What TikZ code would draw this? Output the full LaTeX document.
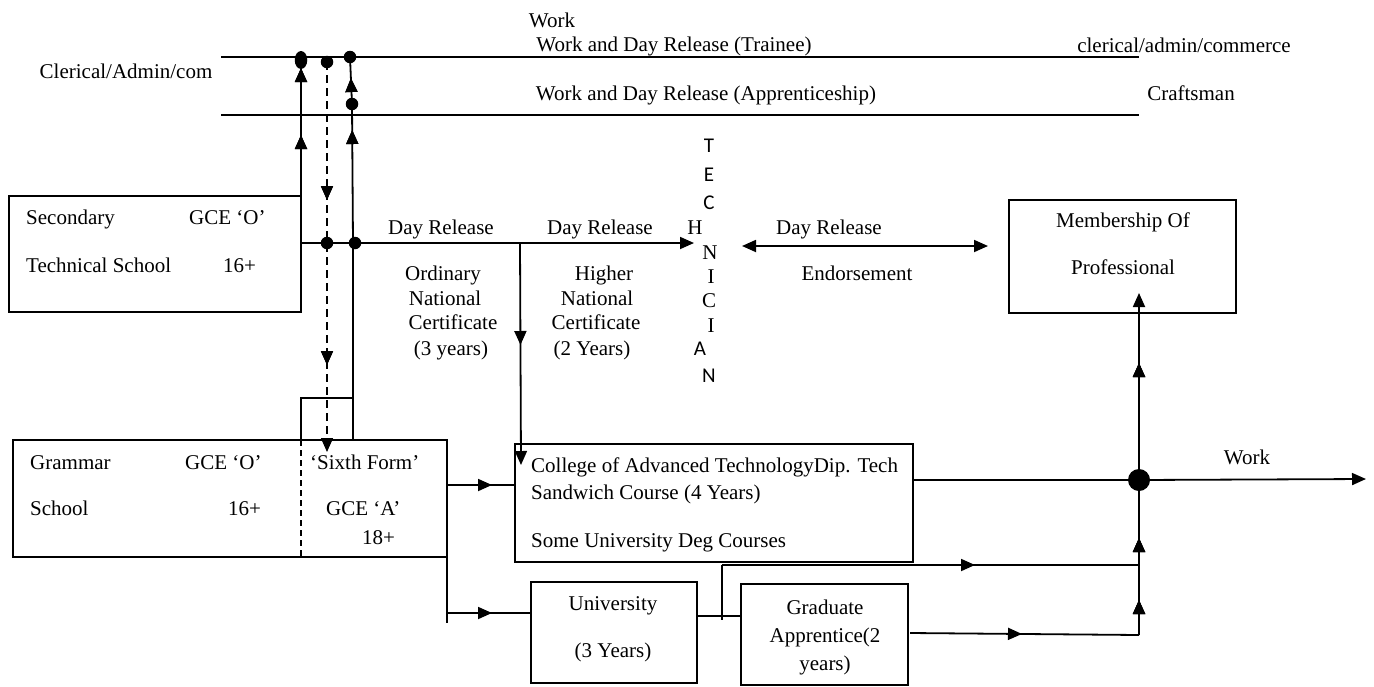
\documentclass[tikz,border=0pt]{standalone}
\usepackage{fontspec}
\setmainfont{Liberation Serif}
\newfontfamily\sansf{Carlito}
\usetikzlibrary{arrows.meta,decorations.markings,shapes.geometric}
\tikzset{
  lbl/.style={inner sep=0pt, text height=14pt, text depth=0pt, font=\fontsize{21}{25}\selectfont},
  slbl/.style={lbl, font=\fontsize{21}{25}\selectfont\sansf},
  box/.style={draw, line width=1.3pt, inner sep=0pt},
  conn/.style={line width=1.8pt},
  rule/.style={line width=1.3pt},
  dashconn/.style={line width=1.5pt, dash pattern=on 8pt off 5pt},
  dotn/.style={circle, fill, inner sep=0pt, minimum size=12.5pt},
  bigdot/.style={circle, fill, inner sep=0pt, minimum size=22pt},
  >={Triangle[length=14pt,width=12pt]},
  midarrow/.style={postaction={decorate},decoration={markings,mark=at position #1 with {\arrow{>}}}},
}
\begin{document}
\begin{tikzpicture}[x=1pt,y=-1pt]
\useasboundingbox (0,0) rectangle (1374,686);

% top work lines
\coordinate (t1a) at (221,57); \coordinate (t1b) at (1139,57);
\coordinate (t2a) at (221,115); \coordinate (t2b) at (1139,115);
\draw[rule] (t1a) -- (t1b);
\draw[rule] (t2a) -- (t2b);
\node[lbl] (work1) at (552,20) {Work};
\node[lbl] (wdrt) at (674,44) {Work and Day Release (Trainee)};
\node[lbl] (cac) at (1184,45) {clerical/admin/commerce};
\node[lbl] (cacl) at (126,71) {Clerical/Admin/com};
\node[lbl] (wdra) at (706,93) {Work and Day Release (Apprenticeship)};
\node[lbl] (craft) at (1191,93) {Craftsman};

% boxes
\node[box, minimum width=292pt, minimum height=116pt] (sec) at (155,254) {};
\node[box, minimum width=434pt, minimum height=117pt] (gram) at (230,498.5) {};
\node[box, minimum width=398pt, minimum height=118pt] (col) at (714,503) {};
\node[box, minimum width=227pt, minimum height=113pt] (mem) at (1122.5,256.5) {};
\node[box, minimum width=166pt, minimum height=101pt] (uni) at (614,632.5) {};
\node[box, minimum width=167pt, minimum height=101pt] (grad) at (824.5,634.5) {};

% box texts
\node[lbl, anchor=west] (s1) at (26,217) {Secondary};
\node[lbl, anchor=west] (s2) at (189,217) {GCE ‘O’};
\node[lbl, anchor=west] (s3) at (26,265) {Technical School};
\node[lbl, anchor=west] (s4) at (223,265) {16+};

\node[lbl, anchor=west] (g1) at (30,462) {Grammar};
\node[lbl, anchor=west] (g2) at (185,462) {GCE ‘O’};
\node[lbl, anchor=west] (g3) at (310,462) {‘Sixth Form’};
\node[lbl, anchor=west] (g4) at (30,508) {School};
\node[lbl, anchor=west] (g5) at (228,508) {16+};
\node[lbl, anchor=west] (g6) at (326,508) {GCE ‘A’};
\node[lbl, anchor=west] (g7) at (362,537) {18+};

\node[lbl, anchor=west] (c1) at (531,465) {College of Advanced TechnologyDip. Tech};
\node[lbl, anchor=west] (c2) at (531,492) {Sandwich Course (4 Years)};
\node[lbl, anchor=west] (c3) at (531,540) {Some University Deg Courses};

\node[lbl] (m1) at (1123,220) {Membership Of};
\node[lbl] (m2) at (1123,267) {Professional};

\node[lbl] (u1) at (613,603) {University};
\node[lbl] (u2) at (613,650) {(3 Years)};

\node[lbl] (ga1) at (825,607) {Graduate};
\node[lbl] (ga2) at (825,635) {Apprentice(2};
\node[lbl] (ga3) at (825,663) {years)};

% dots
\node[ellipse, fill, inner sep=0pt, minimum width=12.5pt, minimum height=18pt] (dA2) at (301,60) {};
\node[dotn] (dD) at (327,62) {};
\node[dotn] (dB) at (350,57) {};
\node[dotn] (dB2) at (352,104) {};
\node[dotn] (dDm) at (327,243) {};
\node[dotn] (dBm) at (355,243) {};
\node[bigdot] (big) at (1139,480) {};

% vertical line A
\coordinate (jA) at (301,243);
\draw[conn, midarrow=108pt, midarrow=175pt] (jA) -- (dA2.center);
% dashed line
\coordinate (dEnd) at (327,452);
\draw[dashconn, ->, midarrow=138pt, midarrow=303pt] (dD.center) -- (dEnd);
% vertical line B
\coordinate (bBot) at (353,440);
\draw[conn, midarrow=310pt, midarrow=362pt] (bBot) -- (353,243) -- (dB2.center) -- (dB.center);
% bracket
\coordinate (brL) at (301,398); \coordinate (brR) at (353,398); \coordinate (brD) at (301,440);
\draw[rule] (brD) -- (brL) -- (brR);
\coordinate (gdB) at (301,557);
\draw[line width=1.2pt, dash pattern=on 6pt off 4pt] (brD) -- (gdB);

% day release line
\coordinate (hTip) at (694,243);
\draw[conn, ->] (jA) -- (hTip);
\coordinate (vS) at (520,243); \coordinate (vE) at (521,465);
\draw[conn, ->, midarrow=102pt] (vS) -- (vE);

\node[lbl] (dr1) at (441,227) {Day Release};
\node[lbl] (dr2) at (600,227) {Day Release};
\node[lbl] (o1) at (443,273) {Ordinary};
\node[lbl] (o2) at (445,298) {National};
\node[lbl] (o3) at (453,322) {Certificate};
\node[lbl] (o4) at (451,348) {(3 years)};
\node[lbl] (h1) at (604,273) {Higher};
\node[lbl] (h2) at (597,298) {National};
\node[lbl] (h3) at (596,322) {Certificate};
\node[lbl] (h4) at (592,348) {(2 Years)};

% TECHNICIAN
\node[slbl] (T1) at (709,145) {T};
\node[slbl] (T2) at (709,174) {E};
\node[slbl] (T3) at (709,202) {C};
\node[lbl] (T4) at (695,227) {H};
\node[lbl] (T5) at (710,252) {N};
\node[lbl] (T6) at (711,276) {I};
\node[lbl] (T7) at (709,300) {C};
\node[lbl] (T8) at (711,325) {I};
\node[slbl] (T9) at (700,348) {A};
\node[slbl] (T10) at (709,375) {N};

% endorsement
\coordinate (eL) at (742,246); \coordinate (eR) at (988,246);
\draw[conn, <->] (eL) -- (eR);
\node[lbl] (dr3) at (829,227) {Day Release};
\node[lbl] (endo) at (857,273) {Endorsement};

% grammar outputs
\coordinate (g2c) at (447,485); \coordinate (c2g) at (515,485);
\draw[conn, midarrow=45pt] (g2c) -- (c2g);
\coordinate (gx1) at (447,537); \coordinate (gx2) at (447,623); \coordinate (gu) at (447,613); \coordinate (ug) at (531,613);
\draw[rule] (gx1) -- (gx2);
\draw[conn, midarrow=45pt] (gu) -- (ug);

% college to big dot and work
\coordinate (colR) at (913,480);
\draw[conn] (colR) -- (big.center);
\coordinate (workE) at (1366,479);
\draw[conn, ->] (big.center) -- (workE);
\node[lbl] (work2) at (1247,457) {Work};

% main vertical
\coordinate (mvB) at (1139,635); \coordinate (mvT) at (1139,293);
\draw[conn, ->, midarrow=35pt, midarrow=97pt, midarrow=272pt] (mvB) -- (mvT);

% university / graduate
\coordinate (uR) at (697,616); \coordinate (gL) at (741,616);
\draw[rule] (uR) -- (gL);
\coordinate (uv1) at (722,565); \coordinate (uv2) at (722,620); \coordinate (uvE) at (1139,565);
\draw[rule] (uv1) -- (uv2);
\draw[conn, midarrow=253pt] (uv1) -- (uvE);
\coordinate (gR) at (910,633);
\draw[conn, midarrow=112pt] (gR) -- (mvB);
\end{tikzpicture}
\end{document}
